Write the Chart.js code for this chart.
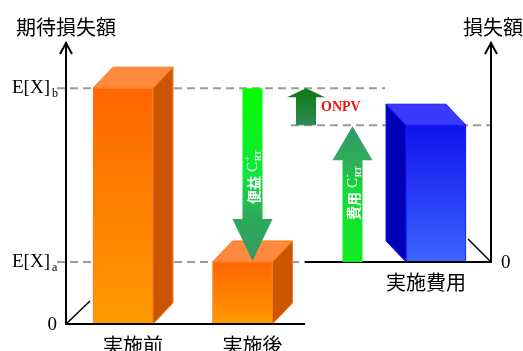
<!DOCTYPE html>
<html>
<head>
<meta charset="utf-8">
<script src="https://cdn.jsdelivr.net/npm/chart.js@4/dist/chart.umd.min.js"></script>
<style>
  html, body { margin: 0; padding: 0; background: #fff; }
  #wrap { position: relative; width: 523px; height: 351px; }
</style>
</head>
<body>
<div id="wrap"><canvas id="chart"></canvas></div>
<script>
// expected loss before / after treatment (left axis), treatment cost (right axis)
const stageLabels = ["実施前", "実施後"];
const expectedLoss = [100, 26.3];        // E[X]b, E[X]a
const levelSubs = ["b", "a"];
const costLabels = ["実施費用"];
const costValues = [58];
const leftTitle = "期待損失額";
const rightTitle = "損失額";
const benefitText = ["便益", "+", "RT"];
const costText = ["費用", "-", "RT"];
const gapLabel = "ONPV";
const Y_MAX = 120;

// net gain is what is left of the benefit after paying the cost
const onpv = expectedLoss[0] - expectedLoss[1] - costValues[0];

// slots along the hidden x scale (0..425)
const X = { before: 57, after: 176.5, benefit: 186.5, onpv: 240, cost: 286.5, spend: 370, split: 239, end: 425 };
const DEPTH = { dx: 20, dy: 21 };
const BAR_W = 60;

const CJK = '"Noto Sans CJK JP", "Noto Sans", sans-serif';
const SERIF = '"Liberation Serif", "DejaVu Serif", serif';

function frontFill(c, axisId, values, stops) {
  const chart = c.chart;
  if (!chart.chartArea || c.dataIndex == null) return stops[1];
  const sc = chart.scales[axisId];
  const top = sc.getPixelForValue(values[c.dataIndex]);
  const base = sc.getPixelForValue(0);
  const g = chart.ctx.createLinearGradient(0, top, 0, base);
  g.addColorStop(0, stops[0]);
  g.addColorStop(1, stops[1]);
  return g;
}

function poly(ctx, pts, fill, stroke) {
  ctx.beginPath();
  ctx.moveTo(pts[0][0], pts[0][1]);
  for (let i = 1; i < pts.length; i++) ctx.lineTo(pts[i][0], pts[i][1]);
  ctx.closePath();
  ctx.fillStyle = fill;
  ctx.fill();
  if (stroke) { ctx.strokeStyle = stroke; ctx.lineWidth = 1; ctx.stroke(); }
}

// top + side faces; dir = 1 pushes depth to the right, -1 to the left
function extrude(ctx, el, dir, topColor, sideColor, edge) {
  const x0 = el.x - el.width / 2, x1 = el.x + el.width / 2;
  const top = el.y, base = el.base;
  const dx = DEPTH.dx * dir, dy = DEPTH.dy;
  poly(ctx, [[x0, top], [x1, top], [x1 + dx, top - dy], [x0 + dx, top - dy]], topColor, edge);
  const sx = dir > 0 ? x1 : x0;
  poly(ctx, [[sx, top], [sx + dx, top - dy], [sx + dx, base - dy], [sx, base]], sideColor, edge);
}

function arrow(ctx, x, yTail, yTip, shaftW, headW, headLen, stops) {
  const dir = yTip < yTail ? -1 : 1;
  const yHead = yTip - dir * headLen;
  const g = ctx.createLinearGradient(0, yTail, 0, yTip);
  stops.forEach(([p, col]) => g.addColorStop(p, col));
  ctx.beginPath();
  ctx.moveTo(x - shaftW / 2, yTail);
  ctx.lineTo(x - shaftW / 2, yHead);
  ctx.lineTo(x - headW / 2, yHead);
  ctx.lineTo(x, yTip);
  ctx.lineTo(x + headW / 2, yHead);
  ctx.lineTo(x + shaftW / 2, yHead);
  ctx.lineTo(x + shaftW / 2, yTail);
  ctx.closePath();
  ctx.fillStyle = g;
  ctx.fill();
  return yHead;
}

// vertical label reading bottom to top: main C^sup_sub
function upLabel(ctx, cx, anchorY, alignEnd, parts) {
  const [main, sup, sub] = parts;
  ctx.save();
  ctx.translate(cx, anchorY);
  ctx.rotate(-Math.PI / 2);
  ctx.fillStyle = "#fff";
  ctx.textBaseline = "middle";
  ctx.textAlign = "left";
  ctx.font = `bold 14px ${CJK}`;
  const w1 = ctx.measureText(main).width + 4;
  ctx.font = `15px ${SERIF}`;
  const wC = ctx.measureText("C").width;
  ctx.font = `bold 8px ${SERIF}`;
  const wS = Math.max(ctx.measureText(sup).width, ctx.measureText(sub).width);
  const total = w1 + wC + wS + 1;
  const x0 = alignEnd ? -total : 0;
  ctx.font = `bold 14px ${CJK}`;
  ctx.fillText(main, x0, 1);
  ctx.font = `15px ${SERIF}`;
  ctx.fillText("C", x0 + w1, 1);
  ctx.font = `bold 8px ${SERIF}`;
  ctx.fillText(sup, x0 + w1 + wC + 1, -5);
  ctx.fillText(sub, x0 + w1 + wC + 1, 6);
  ctx.restore();
}

function upAxis(ctx, x, yFrom, yTip) {
  ctx.strokeStyle = "#000";
  ctx.lineWidth = 2;
  ctx.beginPath();
  ctx.moveTo(x, yFrom);
  ctx.lineTo(x, yTip);
  ctx.stroke();
  ctx.beginPath();
  ctx.moveTo(x - 6, yTip + 12);
  ctx.lineTo(x, yTip + 1);
  ctx.lineTo(x + 6, yTip + 12);
  ctx.stroke();
}

function dashed(ctx, xa, xb, y) {
  ctx.save();
  ctx.strokeStyle = "#9a9a9a";
  ctx.lineWidth = 2;
  ctx.setLineDash([8, 5]);
  ctx.beginPath();
  ctx.moveTo(xa, y);
  ctx.lineTo(xb, y);
  ctx.stroke();
  ctx.restore();
}

const scene = {
  id: "scene",
  beforeDatasetsDraw(chart) {
    const { ctx, chartArea: a } = chart;
    const xs = chart.scales.x, y = chart.scales.y, y2 = chart.scales.y2;
    const spendBack = xs.getPixelForValue(X.spend) - BAR_W / 2 - DEPTH.dx - 1;
    dashed(ctx, a.left - 9, spendBack, y.getPixelForValue(expectedLoss[0]));
    dashed(ctx, a.left - 9, xs.getPixelForValue(X.split), y.getPixelForValue(expectedLoss[1]));
    dashed(ctx, xs.getPixelForValue(X.onpv) - 15, a.right, y2.getPixelForValue(costValues[0]));
  },
  afterDatasetsDraw(chart) {
    const { ctx, chartArea: a } = chart;
    const xs = chart.scales.x, y = chart.scales.y, y2 = chart.scales.y2;

    ctx.save();
    chart.getDatasetMeta(0).data.forEach(el => extrude(ctx, el, 1, "#ff8a3d", "#cc5500", "#ff7a1f"));
    chart.getDatasetMeta(1).data.forEach(el => extrude(ctx, el, -1, "#3a3aff", "#0000b4", "#1a1aff"));

    // axes, baselines and floor edges
    const zeroL = y.getPixelForValue(0), zeroR = y2.getPixelForValue(0);
    const split = xs.getPixelForValue(X.split);
    upAxis(ctx, a.left, zeroL + 1, a.top + 1);
    upAxis(ctx, a.right, zeroR + 1, a.top + 1);
    ctx.lineWidth = 2;
    ctx.beginPath();
    ctx.moveTo(a.left, zeroL); ctx.lineTo(split, zeroL);
    ctx.moveTo(split, zeroR); ctx.lineTo(a.right, zeroR);
    ctx.stroke();
    ctx.lineWidth = 1.5;
    ctx.beginPath();
    ctx.moveTo(a.left, zeroL); ctx.lineTo(a.left + DEPTH.dx + 4, zeroL - DEPTH.dy - 2);
    ctx.moveTo(a.right, zeroR); ctx.lineTo(a.right - DEPTH.dx - 3, zeroR - DEPTH.dy - 2);
    ctx.stroke();

    // benefit arrow: E[X]b down to E[X]a
    const yb = y.getPixelForValue(expectedLoss[0]), ya = y.getPixelForValue(expectedLoss[1]);
    const bx = xs.getPixelForValue(X.benefit);
    const bHead = arrow(ctx, bx, yb, ya - 1, 20, 40, 42,
      [[0, "#00ff00"], [0.5, "#0ee83a"], [0.72, "#2aae58"], [1, "#339966"]]);
    upLabel(ctx, bx, bHead - 15, false, benefitText);

    // cost arrow: right zero up to the cost
    const yc = y2.getPixelForValue(costValues[0]);
    const cx = xs.getPixelForValue(X.cost);
    const cHead = arrow(ctx, cx, zeroR, yc + 1, 20, 40, 34,
      [[0, "#11ee22"], [0.55, "#16d83a"], [0.72, "#2fb05a"], [1, "#339966"]]);
    upLabel(ctx, cx, cHead + 6, true, costText);

    // net gain arrow between the cost top and E[X]b
    const ox = xs.getPixelForValue(X.onpv);
    const yo = y.getPixelForValue(expectedLoss[1] + costValues[0]);
    const yTop = y.getPixelForValue(expectedLoss[1] + costValues[0] + onpv);
    arrow(ctx, ox, yo, yTop, 20, 38, 9, [[0, "#2e8b57"], [1, "#0b7a10"]]);
    ctx.fillStyle = "#ee1111";
    ctx.font = `bold 14px ${SERIF}`;
    ctx.textAlign = "left";
    ctx.textBaseline = "middle";
    ctx.fillText(gapLabel, ox + 15, (yo + yTop) / 2 + 1);

    // level labels on the left
    ctx.fillStyle = "#000";
    expectedLoss.forEach((v, i) => {
      const py = y.getPixelForValue(v);
      ctx.font = `19px ${SERIF}`;
      ctx.textAlign = "right";
      ctx.fillText("E[X]", a.left - 16, py);
      ctx.font = `12px ${SERIF}`;
      ctx.textAlign = "left";
      ctx.fillText(levelSubs[i], a.left - 14, py + 6);
    });
    ctx.font = `19px ${SERIF}`;
    ctx.textAlign = "right";
    ctx.fillText("0", a.left - 9, zeroL + 1);
    ctx.textAlign = "left";
    ctx.fillText("0", a.right + 10, zeroR + 1);

    // titles and category names
    ctx.font = `20px ${CJK}`;
    ctx.textAlign = "center";
    ctx.fillText(leftTitle, a.left, 27);
    ctx.fillText(rightTitle, a.right + 2, 27);
    stageLabels.forEach((s, i) => {
      const el = chart.getDatasetMeta(0).data[i];
      ctx.fillText(s, el.x + DEPTH.dx / 2, zeroL + 21);
    });
    costLabels.forEach((s, i) => {
      const el = chart.getDatasetMeta(1).data[i];
      ctx.fillText(s, el.x - DEPTH.dx / 2, zeroR + 20);
    });
    ctx.restore();
  }
};

const orangeStops = ["#ff6600", "#ff9a00"];
const blueStops = ["#1212ee", "#3a66ff"];

new Chart(document.getElementById("chart"), {
  type: "bar",
  data: {
    datasets: [
      {
        label: "expected loss",
        data: stageLabels.map((s, i) => ({ x: [X.before, X.after][i], y: expectedLoss[i] })),
        yAxisID: "y",
        backgroundColor: c => frontFill(c, "y", expectedLoss, orangeStops),
        borderColor: "#ff7a1f",
        borderWidth: 1,
        borderSkipped: false,
        barThickness: BAR_W,
        grouped: false,
      },
      {
        label: "cost",
        data: costLabels.map((s, i) => ({ x: X.spend, y: costValues[i] })),
        yAxisID: "y2",
        backgroundColor: c => frontFill(c, "y2", costValues, blueStops),
        borderColor: "#1a1aff",
        borderWidth: 1,
        borderSkipped: false,
        barThickness: BAR_W,
        grouped: false,
      },
    ],
  },
  options: {
    animation: false,
    responsive: true,
    maintainAspectRatio: false,
    layout: { padding: { left: 66, right: 32, top: 41, bottom: 27 } },
    plugins: { legend: { display: false }, tooltip: { enabled: false } },
    scales: {
      x: { type: "linear", min: 0, max: X.end, offset: false, display: false },
      y: { min: 0, max: Y_MAX, display: false },
      y2: { min: -expectedLoss[1], max: Y_MAX - expectedLoss[1], display: false },
    },
  },
  plugins: [scene],
});
</script>
</body>
</html>
